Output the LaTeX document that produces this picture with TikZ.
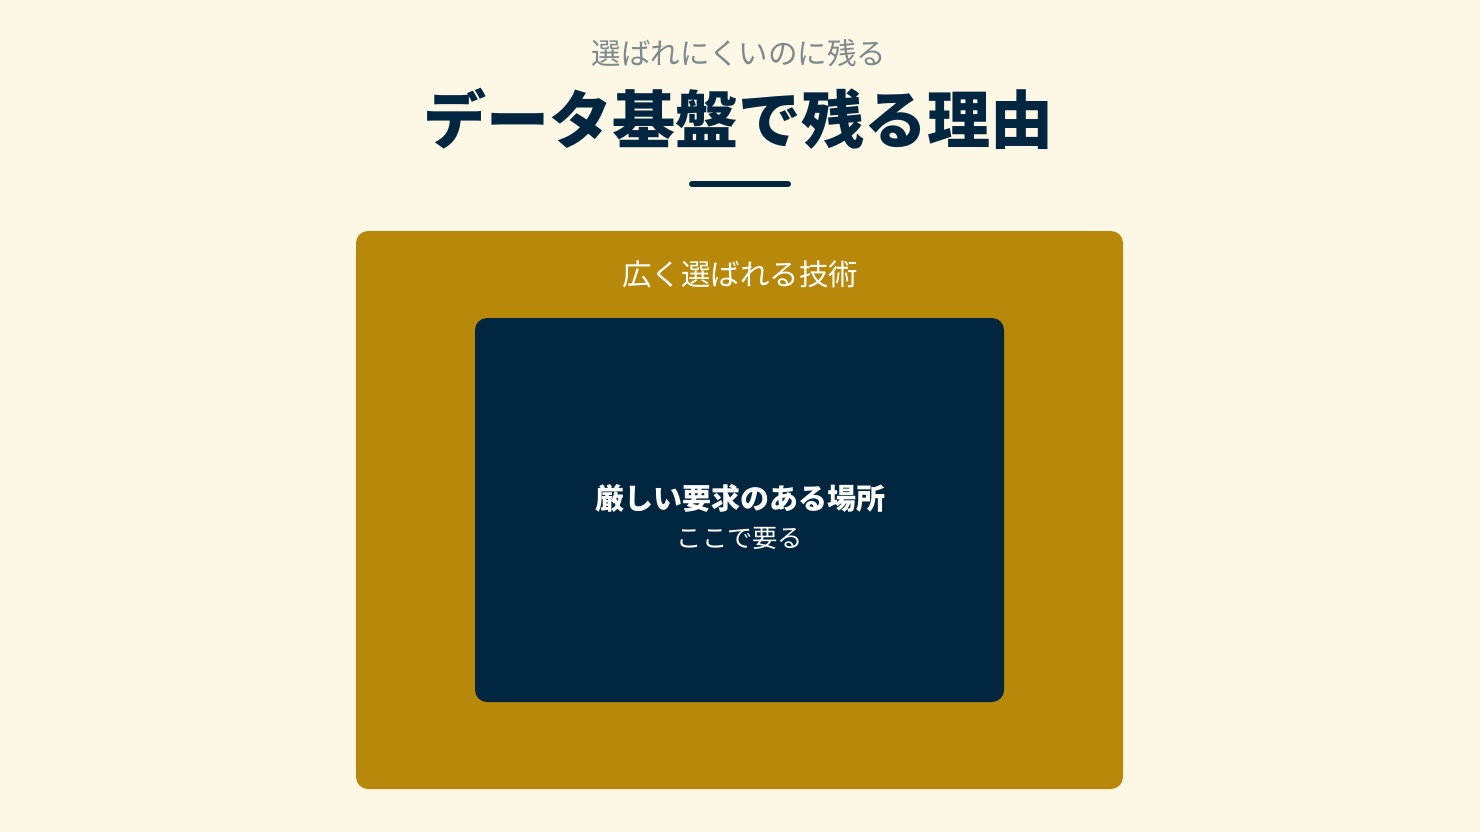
\documentclass[tikz,border=0pt]{standalone}
\usepackage{fontspec}
\setmainfont{Noto Sans CJK JP}
\newfontfamily\jp{Noto Sans CJK JP}
\definecolor{bgc}{HTML}{FDF7E6}
\definecolor{gold}{HTML}{B8880A}
\definecolor{navy}{HTML}{022540}
\definecolor{subgray}{HTML}{7D8A8C}
\tikzset{
  box/.style={rounded corners=12pt},
  txt/.style={inner sep=0pt, anchor=center},
}
\begin{document}
\begin{tikzpicture}[x=1pt,y=-1pt]
\fill[bgc] (0,0) rectangle (1480,832);
\useasboundingbox (0,0) rectangle (1480,832);
\node[txt, text=subgray] (sub) at (739,53) {\jp\fontsize{29.5}{29.5}\selectfont 選ばれにくいのに残る};
\node[txt, text=navy] (title) at (738,119) {\jp\bfseries\fontsize{63}{63}\selectfont データ基盤で残る理由};
\coordinate (r1) at (692,184);
\coordinate (r2) at (788,184);
\draw[navy, line width=6pt, line cap=round] (r1) -- (r2);
\fill[gold, box] (356,231) rectangle (1123,789);
\node[txt, text=white] (outer) at (740,274) {\jp\fontsize{29.5}{29.5}\selectfont 広く選ばれる技術};
\fill[navy, box] (475,318) rectangle (1004,702);
\node[txt, text=white] (inner) at (740,498) {\jp\bfseries\fontsize{29}{29}\selectfont 厳しい要求のある場所};
\node[txt, text=white] (inner2) at (740,538) {\jp\fontsize{25.3}{25.3}\selectfont ここで要る};
\end{tikzpicture}
\end{document}
